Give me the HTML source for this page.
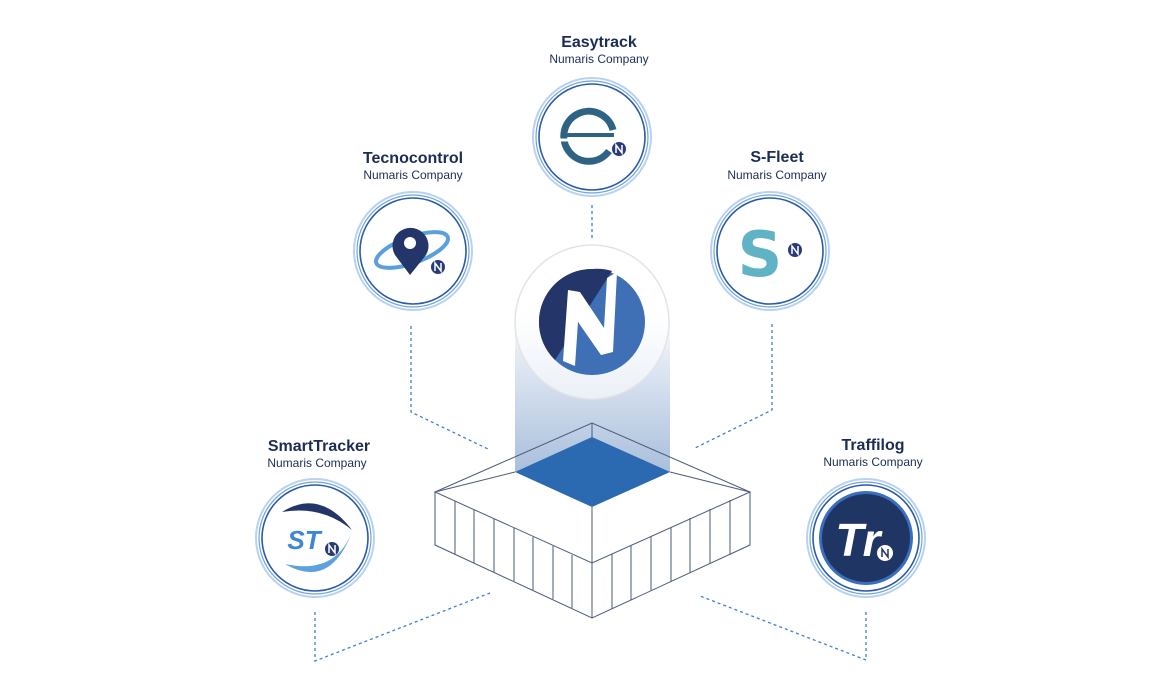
<!DOCTYPE html>
<html><head><meta charset="utf-8"><style>
html,body{margin:0;padding:0;background:#fff;}
svg{display:block;}
.t{font-family:"Liberation Sans",sans-serif;font-weight:bold;font-size:16px;fill:#1b2d55;text-anchor:middle;}
.s{font-family:"Liberation Sans",sans-serif;font-size:12px;fill:#1b2d55;text-anchor:middle;}
.d{stroke:#3f7fd0;stroke-width:1.3;stroke-dasharray:3 3;fill:none;}
.b{stroke:#4a5b7a;stroke-width:1;fill:none;}
</style></head><body>
<svg width="1171" height="700" viewBox="0 0 1171 700">
<defs>
<linearGradient id="beam" x1="0" y1="0" x2="0" y2="1">
<stop offset="0" stop-color="#fff" stop-opacity="0"/>
<stop offset="0.3" stop-color="#e6ecf5"/>
<stop offset="1" stop-color="#a9bfdc"/>
</linearGradient>
<g id="ring">
<circle r="59" fill="#fff" stroke="#b7d2f2" stroke-width="2"/>
<circle r="56" fill="none" stroke="#6fa2e0" stroke-width="1.2"/>
<circle r="53" fill="#fff" stroke="#2a5aa8" stroke-width="1.6"/>
</g>
<g id="mini">
<circle r="7" fill="#2a3c78"/>
<path d="M-3,4 L-3,-4 L3,4 L3,-4" stroke="#fff" stroke-width="1.5" fill="none"/>
</g>
</defs>

<path class="d" d="M592,205 V240"/>
<path class="d" d="M411,326 V412 L488,449"/>
<path class="d" d="M772,324 V410 L695,448"/>
<path class="d" d="M315,612 V661 L490,593"/>
<path class="d" d="M866,612 V660 L700,596"/>

<rect x="515" y="300" width="155" height="172" fill="url(#beam)"/>

<polygon points="435,492 592,563 750,492 750,545 592,618 435,545" fill="#fff"/>
<polygon points="592,437 670,472 592,507 515,472" fill="#2b69b0"/>
<g class="b">
<polygon points="435,492 592,423 750,492 592,563"/>
<polyline points="435,492 515,472"/>
<polyline points="750,492 670,472"/>
<polyline points="592,423 592,437"/>
<polyline points="592,507 592,563"/>
<polyline points="435,492 435,545 592,618 750,545 750,492"/>
<line x1="592" y1="563" x2="592" y2="618"/>
<path d="M455,501V554 M474,510V563 M494,519V572 M514,528V581 M533,537V590 M553,546V599 M572,555V608 M612,554V609 M631,545V600 M651,536V591 M671,527V582 M690,518V573 M710,509V564 M730,500V555"/>
</g>

<circle cx="592" cy="322" r="77" fill="rgba(255,255,255,0.6)" stroke="#e4e4e4" stroke-width="1.5"/>
<circle cx="592" cy="322" r="53" fill="#3f6fb5"/>
<path d="M592,269 A53,53 0 0 0 555,360 L612,271 A53,53 0 0 0 592,269Z" fill="#24356a"/>
<path d="M568,290 L580,292 L604,328 L607,278 L617,272 L613,352 L601,355 L578,322 L575,366 L563,361Z" fill="#fff"/>

<text class="t" x="599" y="47">Easytrack</text>
<text class="s" x="599" y="63">Numaris Company</text>
<use href="#ring" x="592" y="137"/>
<path d="M609,151 A25,25 0 1 1 613,130" stroke="#2f6384" stroke-width="7" fill="none"/>
<path d="M562,133 L614,133 L614,137 L566,137Z" fill="#2f6384"/>
<path d="M558,140 L600,140" stroke="#fff" stroke-width="3"/>
<use href="#mini" x="619" y="149"/>

<text class="t" x="413" y="163">Tecnocontrol</text>
<text class="s" x="413" y="179">Numaris Company</text>
<use href="#ring" x="413" y="251"/>
<ellipse cx="412" cy="250" rx="38" ry="13" transform="rotate(-20 412 250)" fill="none" stroke="#5aa0dc" stroke-width="4"/>
<path d="M410,275 L395,255 A18,18 0 1 1 426,255Z" fill="#24356a"/>
<circle cx="410" cy="243" r="6" fill="#fff"/>
<use href="#mini" x="438" y="267"/>

<text class="t" x="777" y="162">S-Fleet</text>
<text class="s" x="777" y="179">Numaris Company</text>
<use href="#ring" x="770" y="251"/>
<text x="760" y="276" font-family="DejaVu Sans,sans-serif" font-weight="bold" font-size="62" fill="#5fb3c4" text-anchor="middle">S</text>
<use href="#mini" x="795" y="250"/>

<text class="t" x="319" y="451">SmartTracker</text>
<text class="s" x="317" y="467">Numaris Company</text>
<use href="#ring" x="315" y="538"/>
<path d="M282,512 Q320,488 352,530 Q322,505 282,512Z" fill="#24356a"/>
<path d="M285,564 Q330,590 352,532 Q335,575 285,564Z" fill="#5ea0e0"/>
<text x="304" y="549" font-family="Liberation Sans,sans-serif" font-weight="bold" font-style="italic" font-size="26" fill="#3f86d8" text-anchor="middle">ST</text>
<use href="#mini" x="332" y="549"/>

<text class="t" x="873" y="450">Traffilog</text>
<text class="s" x="873" y="466">Numaris Company</text>
<use href="#ring" x="866" y="538"/>
<circle cx="866" cy="538" r="47" fill="#3a6fc0"/>
<circle cx="866" cy="538" r="44" fill="#1f3563"/>
<text x="858" y="556" font-family="Liberation Sans,sans-serif" font-weight="bold" font-style="italic" font-size="46" fill="#fff" text-anchor="middle">Tr</text>
<circle cx="885" cy="553" r="8" fill="#fff"/>
<path d="M882,557 L882,549 L888,557 L888,549" stroke="#1f3563" stroke-width="1.5" fill="none"/>
</svg>
</body></html>
